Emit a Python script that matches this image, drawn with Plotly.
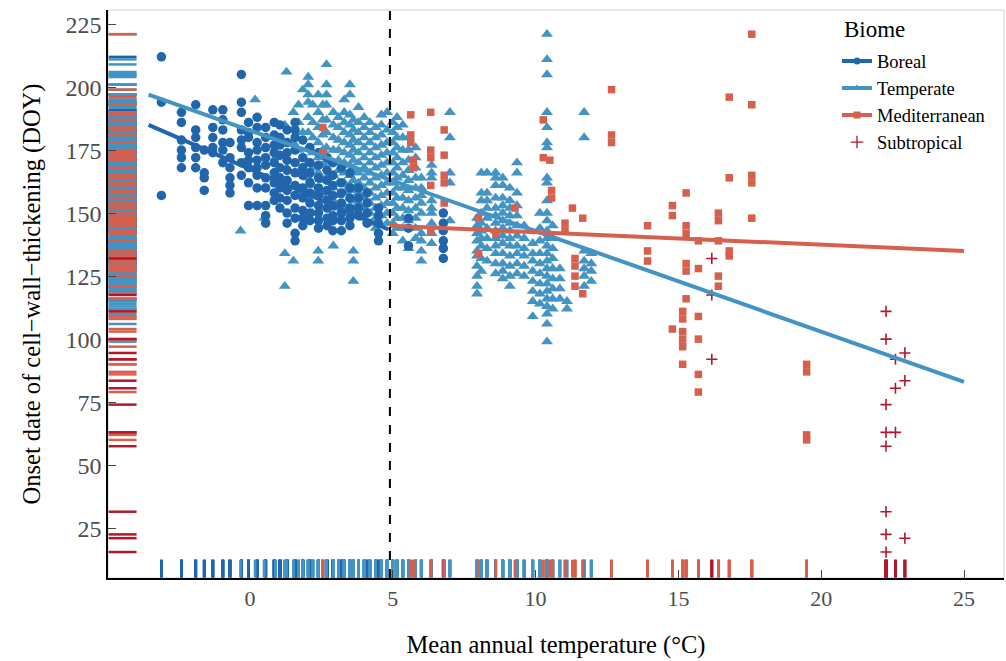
import plotly.graph_objects as go

# ---------------- data ----------------
# each biome: site mean annual temperature and the onset DOY values observed at that site
boreal_site_mat = [-3.1, -2.4, -1.9, -1.6, -1.3, -0.95, -0.7, -0.3, -0.05, 0.25, 0.55, 0.85,
                   1.05, 1.3, 1.58, 1.85, 2.1, 2.4, 2.7, 2.9, 3.2, 3.5, 3.8, 4.1, 4.5, 5.55, 6.77]
boreal_site_doy = [
    [212, 194, 157],
    [190, 186, 179, 175, 172, 168],
    [193, 183, 180, 176, 172, 168],
    [175, 166, 164, 159],
    [191, 184, 180, 176, 174],
    [191, 187, 183, 178, 175, 170],
    [178, 172, 168, 164, 161, 158],
    [205, 194, 190, 183, 179, 176, 170, 165],
    [186, 182, 180, 174, 171, 168, 162, 153],
    [188, 184, 178, 175, 171, 168, 165, 160, 153],
    [184, 180, 176, 172, 169, 164, 160, 153, 149, 146],
    [186, 181, 177, 174, 170, 166, 162, 158, 155],
    [185, 180, 177, 173, 168, 164, 160, 156, 152],
    [183, 178, 174, 171, 167, 163, 159, 155, 150, 146],
    [186, 183, 180, 175, 170, 166, 161, 157, 152, 148, 142, 139],
    [179, 172, 168, 165, 160, 156, 151, 148, 145],
    [176, 170, 166, 162, 158, 154, 150, 147],
    [174, 169, 164, 160, 157, 153, 150, 147, 144],
    [172, 167, 163, 159, 155, 152, 148, 145],
    [170, 165, 161, 157, 153, 149, 147, 143],
    [168, 162, 158, 154, 150, 147, 143],
    [166, 160, 156, 152, 148, 145],
    [160, 156, 152, 149],
    [158, 154, 150, 146],
    [152, 149, 146, 142, 139],
    [148, 144, 137],
    [150, 146, 143, 139, 136, 132],
]

temperate_site_mat = [-0.33, 0.18, 0.5, 0.9, 1.22, 1.28, 1.52, 1.7, 1.85, 2.04, 2.2, 2.39, 2.55,
                      2.68, 2.92, 3.1, 3.3, 3.5, 3.62, 3.8, 4.0, 4.2, 4.4, 4.6, 4.8, 5.0, 5.15,
                      5.35, 5.55, 5.8, 6.0, 6.36, 7.0,
                      7.95, 8.1, 8.3, 8.6, 8.85, 9.1, 9.35, 9.6, 9.9, 10.15, 10.4, 10.6, 10.85,
                      11.1, 11.7, 11.95]
temperate_site_doy = [
    [143],
    [195],
    [160, 148],
    [172, 165],
    [185, 134, 121],
    [206, 168, 160],
    [190, 178, 131],
    [193, 186, 175, 166],
    [199, 182, 158],
    [204, 201, 197, 194, 188, 182, 176, 170, 164, 156],
    [193, 186, 180, 174, 168, 161, 150],
    [197, 190, 184, 178, 172, 166, 159, 135, 131],
    [193, 187, 181, 175, 169, 163, 157],
    [209, 201, 197, 193, 187, 182, 176, 170, 164, 158, 152],
    [190, 185, 180, 175, 170, 165, 160, 155, 137],
    [188, 184, 179, 175, 171, 167, 162, 157, 152, 147],
    [195, 190, 186, 182, 178, 174, 170, 166, 162, 158, 153],
    [201, 197, 189, 185, 181, 177, 173, 169, 165, 161, 156, 150],
    [187, 183, 179, 175, 171, 167, 163, 159, 155, 151, 135, 131, 123],
    [192, 186, 182, 178, 174, 170, 166, 162, 158, 154, 150],
    [188, 184, 180, 176, 172, 168, 164, 160, 156, 152, 148],
    [186, 182, 178, 174, 170, 166, 162, 158, 154, 150, 146],
    [184, 180, 176, 172, 168, 164, 160, 156, 152, 148, 144],
    [189, 185, 181, 177, 173, 169, 165, 161, 157, 153, 149, 145],
    [190, 183, 178, 174, 170, 166, 162, 158, 154, 150, 146],
    [186, 182, 178, 174, 170, 166, 162, 158, 154, 150, 146, 142],
    [188, 184, 180, 176, 172, 168, 164, 160, 156, 152, 148, 144],
    [185, 180, 175, 170, 165, 160, 156, 152, 148, 144, 139],
    [180, 175, 171, 167, 163, 159, 155, 151, 147, 136],
    [176, 172, 168, 164, 160, 156, 152, 148, 144, 140],
    [164, 160, 157, 154, 150, 142, 139, 135, 131],
    [169, 166, 164, 155, 152, 150, 146, 142, 138],
    [190, 180, 166, 162, 147],
    [148, 145, 142, 139, 135, 133, 129, 125, 121, 118],
    [166, 158, 155, 150, 146, 143, 140, 137, 132, 127],
    [166, 158, 155, 152, 148, 144, 140, 136, 131],
    [166, 164, 161, 156, 152, 149, 146, 143, 140, 137, 134, 130, 126],
    [164, 161, 156, 153, 150, 147, 144, 141, 138, 134, 130, 127, 124],
    [160, 155, 152, 149, 146, 143, 140, 137, 133, 129, 125, 121],
    [170, 166, 158, 153, 149, 145, 141, 137, 134, 130, 126],
    [145, 140, 136, 133, 129, 125],
    [138, 134, 131, 127, 123, 119, 115, 109],
    [150, 144, 139, 134, 130, 126, 122, 118, 114],
    [221, 211, 205, 190, 184, 178, 176, 164, 162, 155, 150, 147, 143, 140, 137, 134, 131,
     128, 125, 122, 119, 116, 113, 110, 106, 99],
    [145, 140, 136, 132, 128, 124, 120, 116, 112],
    [128, 124, 120, 116],
    [115, 112],
    [190, 180, 135, 131, 128, 125, 121],
    [134, 130, 127, 123],
]

mediterranean_site_mat = [2.55, 5.63, 5.72, 6.33, 6.8, 8.0, 8.61, 9.28, 10.27, 10.5, 10.56, 11.03,
                          11.29, 11.38, 11.65, 12.66, 13.92, 14.79, 15.15, 15.27, 15.7, 16.4,
                          16.78, 17.57, 19.49]
mediterranean_site_doy = [
    [184, 174],
    [189, 181, 178],
    [171, 168],
    [190, 175, 172, 161, 143],
    [183, 173, 165, 162, 154],
    [148, 134],
    [142],
    [152],
    [187, 172],
    [171],
    [159, 156],
    [146, 143],
    [152],
    [132, 129, 125, 121],
    [148, 118],
    [199, 181, 178],
    [145, 135, 131],
    [153, 149, 104],
    [111, 108, 103, 100, 97, 90],
    [158, 145, 142, 130, 127, 116],
    [139, 128, 109, 100, 86, 79],
    [150, 147, 139, 125, 121],
    [196, 164, 135, 133],
    [221, 193, 165, 162, 148],
    [90, 87, 62, 60],
]

subtropical_site_mat = [16.17, 22.27, 22.6, 22.93]
subtropical_site_doy = [
    [132, 117.5, 92],
    [111, 100, 74, 63, 57.5, 31.5, 22.5, 15.5],
    [92, 80.5, 63],
    [94.5, 83.5, 21],
]

# fitted regression lines (end points)
boreal_fit_mat = [-3.55, 4.85]
boreal_fit_doy = [185, 143.5]
temperate_fit_mat = [-3.55, 25]
temperate_fit_doy = [197, 83]
mediterranean_fit_mat = [4.9, 25]
mediterranean_fit_doy = [145, 135]

threshold_mat = 4.9

x_ticks = [0, 5, 10, 15, 20, 25]
y_ticks = [25, 50, 75, 100, 125, 150, 175, 200, 225]

# ---------------- styling ----------------
BOREAL = "#2166AC"
TEMPERATE = "#4393C3"
MED = "#D6604D"
SUB = "#B2182B"
FONT = "Liberation Serif"

X_RANGE = [-4.97, 26.4]
Y_RANGE = [5.2, 230.6]
LEFT_RUG_X = -4.46   # centre of the marginal rug on the y side
BOTTOM_RUG_Y = 8.93  # centre of the marginal rug on the x side


def flatten(site_mat, site_doy):
    xs, ys = [], []
    for m, vals in zip(site_mat, site_doy):
        for v in vals:
            xs.append(m)
            ys.append(v)
    return xs, ys


biomes = [
    ("Boreal", boreal_site_mat, boreal_site_doy, BOREAL, "circle", 9.5),
    ("Temperate", temperate_site_mat, temperate_site_doy, TEMPERATE, "triangle-up", 10.5),
    ("Mediterranean", mediterranean_site_mat, mediterranean_site_doy, MED, "square", 7.5),
    ("Subtropical", subtropical_site_mat, subtropical_site_doy, SUB, "cross-thin", 8),
]
flat = {name: flatten(sm, sd) for name, sm, sd, *_ in biomes}

fig = go.Figure()

# marginal rugs
for name, _, _, color, _, _ in biomes:
    xs, ys = flat[name]
    fig.add_trace(go.Scatter(
        x=[LEFT_RUG_X] * len(ys), y=ys, mode="markers", showlegend=False, hoverinfo="skip",
        marker=dict(symbol="line-ew", size=20, color=color, line=dict(color=color, width=2.5))))
    fig.add_trace(go.Scatter(
        x=xs, y=[BOTTOM_RUG_Y] * len(xs), mode="markers", showlegend=False, hoverinfo="skip",
        marker=dict(symbol="line-ns", size=12.6, color=color, line=dict(color=color, width=2.8))))

# points (temperate first so boreal circles sit on top, as in the reference)
for name in ["Temperate", "Boreal", "Mediterranean", "Subtropical"]:
    _, _, _, color, symbol, size = next(b for b in biomes if b[0] == name)
    xs, ys = flat[name]
    mk = dict(symbol=symbol, size=size, color=color)
    if symbol == "cross-thin":
        mk["line"] = dict(color=color, width=1.6)
    else:
        mk["line"] = dict(width=0)
    fig.add_trace(go.Scatter(x=xs, y=ys, mode="markers", marker=mk, showlegend=False, name=name))

# regression lines
for fx, fy, color in [(boreal_fit_mat, boreal_fit_doy, BOREAL),
                      (temperate_fit_mat, temperate_fit_doy, TEMPERATE),
                      (mediterranean_fit_mat, mediterranean_fit_doy, MED)]:
    fig.add_trace(go.Scatter(x=fx, y=fy, mode="lines", line=dict(color=color, width=4),
                             showlegend=False, hoverinfo="skip"))

# legend entries
for name, _, _, color, symbol, size in biomes:
    if name == "Subtropical":
        fig.add_trace(go.Scatter(x=[None], y=[None], mode="markers", name=name,
                                 marker=dict(symbol=symbol, size=9, color=color,
                                             line=dict(color=color, width=1.3))))
    else:
        fig.add_trace(go.Scatter(x=[None], y=[None], mode="lines+markers", name=name,
                                 line=dict(color=color, width=4),
                                 marker=dict(symbol=symbol, size=7, color=color)))

# threshold line
fig.add_shape(type="line", xref="x", yref="paper", x0=threshold_mat, x1=threshold_mat,
              y0=0, y1=1, line=dict(color="black", width=2, dash="dash"), layer="above")
# light frame
fig.add_shape(type="rect", xref="paper", yref="paper", x0=0, x1=1, y0=0, y1=1,
              line=dict(color="#cfcfcf", width=1), layer="below")

# legend heading
fig.add_annotation(text="Biome", xref="paper", yref="paper", x=0.8195, y=0.965,
                   xanchor="left", yanchor="middle", showarrow=False,
                   font=dict(family=FONT, size=23, color="black"))

axis_common = dict(showgrid=False, zeroline=False, showline=True, linecolor="black",
                   linewidth=1.5, ticks="inside", ticklen=8, tickcolor="#444444")
fig.update_xaxes(range=X_RANGE, tickvals=x_ticks, **axis_common,
                 tickfont=dict(family=FONT, size=22, color="#4d4d4d"),
                 title=dict(text="Mean annual temperature (°C)",
                            font=dict(family=FONT, size=24.5, color="black"), standoff=26))
fig.update_yaxes(range=Y_RANGE, tickvals=y_ticks, **axis_common,
                 tickfont=dict(family=FONT, size=24, color="#4d4d4d"),
                 title=dict(text="Onset date of cell\u2212wall\u2212thickening (DOY)",
                            font=dict(family=FONT, size=24.5, color="black"), standoff=18))

fig.update_layout(
    width=1006, height=661,
    margin=dict(l=108, r=2, t=10, b=83),
    plot_bgcolor="white", paper_bgcolor="white",
    font=dict(family=FONT),
    legend=dict(x=0.8136, y=0.943, xanchor="left", yanchor="top",
                font=dict(family=FONT, size=18.5, color="black"),
                bgcolor="rgba(0,0,0,0)", tracegroupgap=0),
)

fig.write_html("out.html")
